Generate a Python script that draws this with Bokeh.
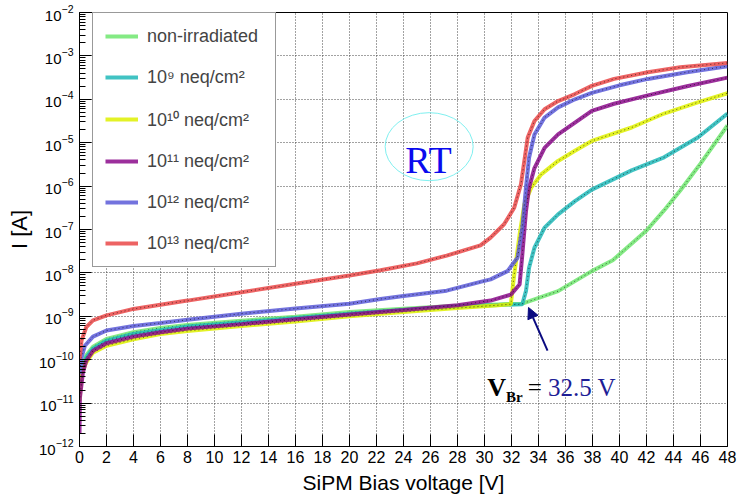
from bokeh.plotting import figure
from bokeh.models import (Range1d, FixedTicker, Legend, LegendItem, Arrow, NormalHead)
from bokeh.core.properties import value
from bokeh.embed import file_html
from bokeh.resources import INLINE

# ---------------- data ----------------
x_ticks = list(range(0, 49, 2))
y_decades = [1e-12, 1e-11, 1e-10, 1e-9, 1e-8, 1e-7, 1e-6, 1e-5, 1e-4, 1e-3, 1e-2]

labels = ["non-irradiated", "10⁹ neq/cm²", "10¹⁰ neq/cm²",
          "10¹¹ neq/cm²", "10¹² neq/cm²", "10¹³ neq/cm²"]
colors = ["#6ee66e", "#20b8b8", "#def000", "#8b0a8b", "#5a5ad8", "#ea4848"]

v_green = [0, 0.25, 0.5, 1, 2, 4, 6, 8, 12, 16, 20, 24, 28, 31, 32.8, 35.45,
           37.95, 39.5, 42.0, 43.3, 44.5, 46.0, 48]
i_green = [3.2e-11, 7.9e-11, 1.26e-10, 2.0e-10, 3.0e-10, 4.3e-10, 5.4e-10,
           6.3e-10, 7.9e-10, 9.8e-10, 1.25e-9, 1.5e-9, 1.75e-9, 1.88e-9,
           1.95e-9, 3.8e-9, 1.1e-8, 1.95e-8, 9.5e-8, 2.75e-7, 7.9e-7, 3.3e-6,
           2.5e-5]

v_cyan = [0, 0.3, 0.5, 1, 2, 4, 6, 8, 12, 16, 20, 24, 28, 31, 32.8, 33.07,
          33.3, 33.7, 34.45, 35.45, 36.7, 37.95, 40.9, 43.3, 45.8, 48]
i_cyan = [2.75e-11, 6.6e-11, 1.12e-10, 1.78e-10, 2.75e-10, 3.9e-10, 4.8e-10,
          5.8e-10, 7.2e-10, 9.1e-10, 1.15e-9, 1.4e-9, 1.65e-9, 1.82e-9,
          1.9e-9, 3.8e-9, 1.32e-8, 3.8e-8, 1.1e-7, 2.24e-7, 4.5e-7, 8.3e-7,
          2.3e-6, 4.6e-6, 1.32e-5, 4.7e-5]

v_yellow = [0, 0.15, 0.5, 1, 2, 4, 6, 8, 12, 16, 20, 24, 28, 31, 31.95, 32.2,
            32.6, 32.95, 33.45, 34.2, 35.45, 36.7, 37.95, 40.9, 43.3, 45.8, 48]
i_yellow = [1.12e-11, 4.7e-11, 8.7e-11, 1.45e-10, 2.1e-10, 2.95e-10, 3.9e-10,
            4.6e-10, 6.0e-10, 7.6e-10, 1.0e-9, 1.26e-9, 1.55e-9, 1.8e-9,
            1.9e-9, 9.1e-9, 7.6e-8, 3.8e-7, 9.1e-7, 1.86e-6, 3.8e-6, 6.5e-6,
            1.1e-5, 2.24e-5, 4.7e-5, 8.5e-5, 1.38e-4]

v_purple = [0, 0.03, 0.25, 0.5, 1, 2, 4, 6, 8, 12, 16, 20, 24, 28, 30.45,
            31.95, 32.6, 32.8, 33.07, 33.3, 33.7, 34.45, 35.45, 36.7, 37.95,
            39.6, 42.1, 45, 48]
i_purple = [2.0e-12, 1.32e-11, 5.0e-11, 9.5e-11, 1.6e-10, 2.4e-10, 3.4e-10,
            4.3e-10, 5.2e-10, 6.6e-10, 8.5e-10, 1.1e-9, 1.4e-9, 1.8e-9, 2.3e-9,
            3.16e-9, 5.4e-9, 2.6e-8, 2.6e-7, 9.1e-7, 2.6e-6, 7.6e-6, 1.55e-5,
            2.9e-5, 5.4e-5, 7.9e-5, 1.23e-4, 2.0e-4, 3.16e-4]

v_blue = [0, 0.15, 0.4, 1, 2, 4, 6, 8, 12, 16, 20, 22.3, 24, 27.2, 29.7, 30.45,
          31.7, 32.45, 32.8, 33.07, 33.3, 33.7, 34.45, 35.45, 36.7, 37.95, 40,
          42.1, 45, 48]
i_blue = [4.7e-11, 1.12e-10, 2.1e-10, 3.4e-10, 4.7e-10, 6.0e-10, 7.0e-10,
          8.3e-10, 1.15e-9, 1.51e-9, 1.95e-9, 2.5e-9, 2.95e-9, 3.9e-9, 6.2e-9,
          7.1e-9, 1.1e-8, 2.24e-8, 1.1e-7, 9.1e-7, 4.5e-6, 1.55e-5, 3.8e-5,
          6.5e-5, 1.0e-4, 1.41e-4, 2.1e-4, 2.95e-4, 4.2e-4, 5.8e-4]

v_red = [0, 0.15, 0.5, 1, 2, 4, 8, 12, 16, 20, 22.3, 25, 27.2, 29.7, 30.45,
         31.45, 32.2, 32.7, 32.95, 33.2, 33.7, 34.45, 35.45, 36.7, 37.95, 39.6,
         42.1, 44.5, 48]
i_red = [1.0e-10, 2.75e-10, 5.6e-10, 8.1e-10, 1.05e-9, 1.48e-9, 2.3e-9, 3.6e-9,
         5.6e-9, 8.7e-9, 1.15e-8, 1.66e-8, 2.5e-8, 4.3e-8, 6.5e-8, 1.32e-7,
         3.16e-7, 1.1e-6, 3.8e-6, 1.32e-5, 3.16e-5, 5.9e-5, 9.1e-5, 1.32e-4,
         2.04e-4, 2.95e-4, 4.2e-4, 5.5e-4, 6.9e-4]

series_v = [v_green, v_cyan, v_yellow, v_purple, v_blue, v_red]
series_i = [i_green, i_cyan, i_yellow, i_purple, i_blue, i_red]

# ---------------- figure ----------------
FONT = "Liberation Sans"
p = figure(width=743, height=502, x_range=Range1d(0, 48),
           y_range=Range1d(1e-12, 1e-2), y_axis_type="log",
           output_backend="svg", toolbar_location=None,
           min_border_left=79, min_border_right=16,
           min_border_top=12, min_border_bottom=56)
p.background_fill_color = "white"
p.border_fill_color = "white"
p.outline_line_color = "black"
p.outline_line_width = 1

minor_y = [m * d for d in y_decades[:-1] for m in range(2, 10)]
p.xaxis.ticker = FixedTicker(ticks=x_ticks, minor_ticks=[])
p.yaxis.ticker = FixedTicker(ticks=y_decades, minor_ticks=minor_y)

for ax in (p.xaxis[0], p.yaxis[0]):
    ax.major_tick_in = 12
    ax.major_tick_out = 0
    ax.minor_tick_in = 6
    ax.minor_tick_out = 0
    ax.axis_line_color = "black"
    ax.major_tick_line_color = "black"
    ax.minor_tick_line_color = "black"
    ax.major_label_text_font = FONT
    ax.major_label_text_color = "black"
    ax.axis_label_text_font = FONT
    ax.axis_label_text_font_style = "normal"
    ax.axis_label_text_color = "black"

p.xaxis.major_label_text_font_size = "16px"
p.yaxis.major_label_text_font_size = "15px"
p.xaxis.axis_label = "SiPM Bias voltage [V]"
p.xaxis.axis_label_text_font_size = "21px"
p.xaxis.major_label_standoff = 4
p.xaxis.axis_label_standoff = 5
p.yaxis.axis_label = "I [A]"
p.yaxis.axis_label_text_font_size = "22px"
p.yaxis.major_label_standoff = 6
p.yaxis.axis_label_standoff = 4

for g in (p.xgrid[0], p.ygrid[0]):
    g.grid_line_color = "#444444"
    g.grid_line_dash = "1 2"
    g.grid_line_width = 1
p.xgrid.ticker = FixedTicker(ticks=x_ticks)
p.ygrid.ticker = FixedTicker(ticks=y_decades)

items = []
for v, i, c, lab in zip(series_v, series_i, colors, labels):
    r = p.line(v, i, line_color=c, line_width=4, line_alpha=0.85)
    p.line(v, i, line_color="black", line_width=1, line_dash="1 3", line_alpha=0.6)
    items.append(LegendItem(label=lab, renderers=[r]))

legend = Legend(items=items, location=(13, 179),
                label_text_font=FONT, label_text_font_size="18px",
                label_height=22, glyph_height=22, glyph_width=33,
                label_standoff=9, label_width=116, spacing=19, padding=12,
                border_line_color="#333333", border_line_width=1,
                background_fill_color="white", background_fill_alpha=1)
p.add_layout(legend, "center")

# RT label with ellipse
p.ellipse(x=[25.9], y=[8.1e-6], width=88, height=68, width_units="screen",
          height_units="screen", fill_alpha=0, line_color="#7ff0f0", line_width=1)
p.text(x=[25.85], y=[3.9e-6], text=["RT"], text_align="center",
       text_baseline="alphabetic", text_color="#0a0aee",
       text_font=value("Liberation Serif"), text_font_size="38px")

# breakdown annotation
p.add_layout(Arrow(end=NormalHead(size=11, fill_color="#0a0a80", line_color="#0a0a80"),
                   x_start=34.67, y_start=1.62e-10, x_end=33.26, y_end=1.6e-9,
                   line_color="#0a0a80", line_width=2))
p.text(x=[30.2], y=[2.3e-11], text=["V"], text_align="left",
       text_baseline="alphabetic", text_color="black", text_font_style="bold",
       text_font=value("Liberation Serif"), text_font_size="26px")
p.text(x=[31.6], y=[1.35e-11], text=["Br"], text_align="left",
       text_baseline="alphabetic", text_color="black", text_font_style="bold",
       text_font=value("Liberation Serif"), text_font_size="15px")
p.text(x=[33.2], y=[2.3e-11], text=["="], text_align="left",
       text_baseline="alphabetic", text_color="black",
       text_font=value("Liberation Serif"), text_font_size="25px")
p.text(x=[34.7], y=[2.3e-11], text=["32.5 V"], text_align="left",
       text_baseline="alphabetic", text_color="#1e1e96",
       text_font=value("Liberation Serif"), text_font_size="25px")

open("out.html", "w").write(file_html(p, INLINE))
